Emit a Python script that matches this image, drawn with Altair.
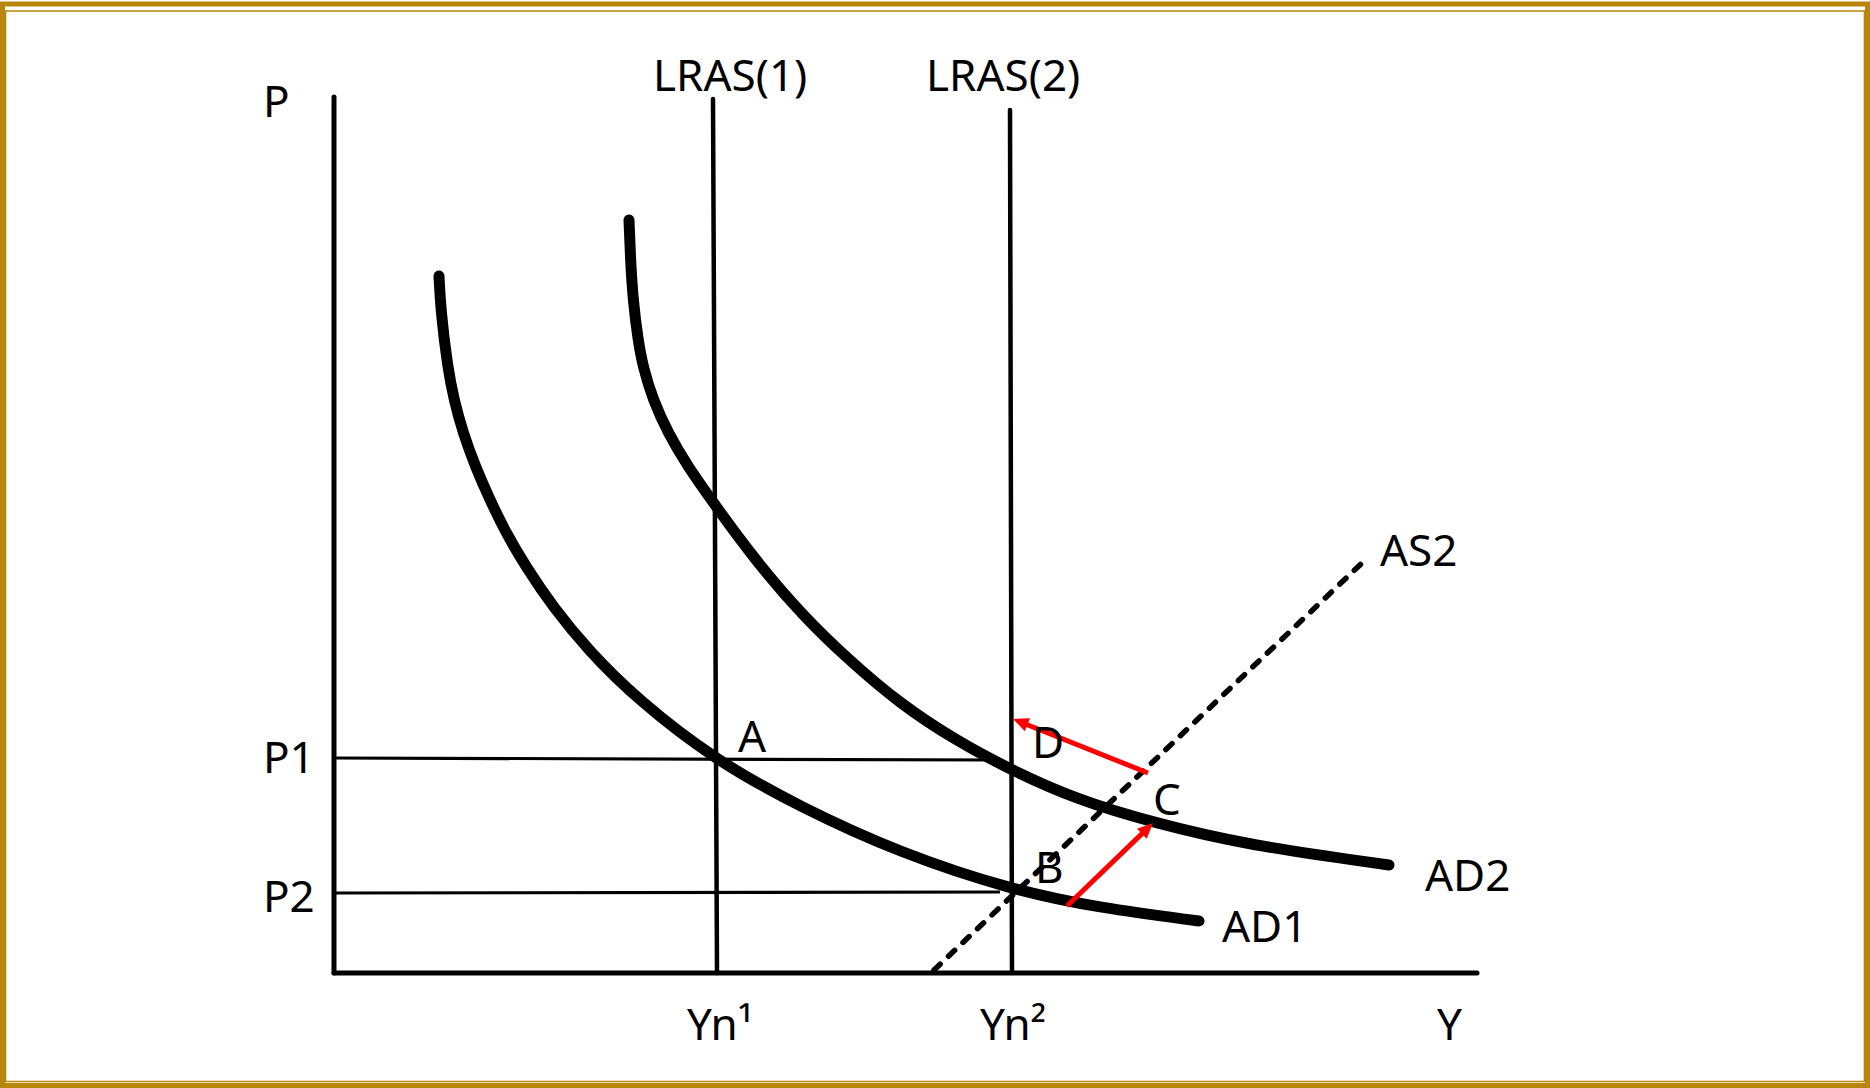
import math
import altair as alt
import pandas as pd

# ---- data (units: output Y to the right, price level P upward; origin = axes corner) ----
ad1_y = [10.5, 10.67, 11.35, 12.0, 12.9, 14.15, 15.6, 17.2, 19.2, 21.9, 25.4, 30.4,
         38.1, 46.6, 56.6, 67.8, 76.6, 86.5]
ad1_p = [69.7, 66.3, 60.6, 57.3, 54.0, 50.6, 47.3, 44.0, 40.6, 36.6, 32.3, 27.3,
         21.3, 16.6, 12.0, 8.3, 6.5, 5.2]
ad2_y = [29.5, 29.65, 29.9, 30.4, 30.9, 31.9, 33.4, 35.4, 37.95, 42.1, 47.0, 51.5,
         56.5, 62.1, 67.7, 74.4, 81.7, 91.2, 105.5]
ad2_p = [75.3, 71.3, 67.3, 63.3, 60.6, 57.3, 54.0, 50.6, 47.0, 41.3, 35.6, 31.3,
         27.0, 23.3, 20.3, 17.3, 15.1, 12.8, 10.8]

lras1_y = [37.9, 38.3]
lras1_p = [87.4, 0.0]
lras2_y = [67.6, 67.8]
lras2_p = [86.3, 0.0]

p1_y = [0.0, 66.6]
p1_p = [21.5, 21.3]
p2_y = [0.0, 66.6]
p2_p = [8.0, 8.1]

as2_y = [60.0, 102.8]
as2_p = [0.3, 41.0]

yaxis_y = [0.0, 0.0]
yaxis_p = [0.0, 87.6]
xaxis_y = [0.0, 114.3]
xaxis_p = [0.0, 0.0]

arrow_bc_y = [73.3, 81.9]
arrow_bc_p = [6.7, 15.0]
arrow_cd_y = [81.4, 67.9]
arrow_cd_p = [20.0, 25.4]

label_text = ["P", "LRAS(1)", "LRAS(2)", "P1", "P2", "A", "B", "C", "D",
              "AS2", "AD1", "AD2", "Yn¹", "Yn²", "Y"]
label_y = [-7.1, 31.9, 59.2, -7.1, -7.1, 40.4, 70.1, 81.9, 69.8,
           104.6, 88.8, 109.1, 35.3, 64.6, 110.3]
label_p = [85.6, 88.2, 88.2, 20.0, 6.1, 22.1, 9.0, 15.8, 21.5,
           40.7, 3.1, 8.2, -6.7, -6.7, -6.7]

# ---- scales ----
XS = alt.Scale(domain=[-33.4, 153.6], nice=False, zero=False)
YS = alt.Scale(domain=[-11.5, 97.3], nice=False, zero=False)
GOLD = "#B8860B"


def frame(pairs):
    rows = []
    for name, xs, ys in pairs:
        for i, (a, b) in enumerate(zip(xs, ys)):
            rows.append({"name": name, "i": i, "x": a, "y": b})
    return pd.DataFrame(rows)


def lines(df, **mk):
    return alt.Chart(df).mark_line(**mk).encode(
        x=alt.X("x:Q", scale=XS, axis=None),
        y=alt.Y("y:Q", scale=YS, axis=None),
        detail="name:N",
        order="i:Q",
    )


axes = lines(frame([("yaxis", yaxis_y, yaxis_p), ("xaxis", xaxis_y, xaxis_p)]),
             color="black", strokeWidth=5, strokeCap="round")
lras = lines(frame([("lras1", lras1_y, lras1_p), ("lras2", lras2_y, lras2_p)]),
             color="black", strokeWidth=4.5, strokeCap="round")
plines = lines(frame([("p1", p1_y, p1_p), ("p2", p2_y, p2_p)]),
               color="black", strokeWidth=3.2)
as2 = lines(frame([("as2", as2_y, as2_p)]),
            color="black", strokeWidth=5.5, strokeCap="round", strokeDash=[8.5, 11.5])
ad = lines(frame([("ad1", ad1_y, ad1_p), ("ad2", ad2_y, ad2_p)]),
           color="black", strokeWidth=11, strokeCap="round", strokeJoin="round",
           interpolate="basis")

# arrows: shaft shortened so the head carries the tip
HEAD = 1.5
shaft_pairs = []
head_rows = []
for name, xs, ys in [("bc", arrow_bc_y, arrow_bc_p), ("cd", arrow_cd_y, arrow_cd_p)]:
    dx, dy = xs[1] - xs[0], ys[1] - ys[0]
    L = math.hypot(dx, dy)
    ux, uy = dx / L, dy / L
    shaft_pairs.append((name, [xs[0], xs[1] - ux * HEAD * 0.8], [ys[0], ys[1] - uy * HEAD * 0.8]))
    ang = math.degrees(math.atan2(dx, dy)) % 360
    head_rows.append({"x": xs[1], "y": ys[1], "angle": ang})

shafts = lines(frame(shaft_pairs), color="#FF0000", strokeWidth=5)
heads = alt.Chart(pd.DataFrame(head_rows)).mark_point(
    shape="M0,0L-0.9,2L0.9,2Z", filled=True, color="#FF0000", size=240, opacity=1, strokeWidth=0
).encode(
    x=alt.X("x:Q", scale=XS, axis=None),
    y=alt.Y("y:Q", scale=YS, axis=None),
    angle=alt.Angle("angle:Q", scale=None),
)

labels = alt.Chart(pd.DataFrame({"t": label_text, "x": label_y, "y": label_p})).mark_text(
    font="Noto Sans", fontSize=44, align="left", baseline="alphabetic", color="black"
).encode(
    x=alt.X("x:Q", scale=XS, axis=None),
    y=alt.Y("y:Q", scale=YS, axis=None),
    text="t:N",
)

one = pd.DataFrame({"k": [0]})
border_outer = alt.Chart(one).mark_rect(filled=False, stroke=GOLD, strokeWidth=5).encode(
    x=alt.value(2.5), x2=alt.value(1867.5), y=alt.value(4), y2=alt.value(1085.5)
)
border_inner = alt.Chart(one).mark_rect(filled=False, stroke=GOLD, strokeWidth=1.6).encode(
    x=alt.value(5.5), x2=alt.value(1864.5), y=alt.value(11), y2=alt.value(1081.5)
)

chart = alt.layer(
    border_outer, border_inner, plines, lras, axes, as2, ad, shafts, heads, labels
).properties(
    width=1870, height=1088, padding=0,
    autosize=alt.AutoSizeParams(type="none"),
    background="white",
).configure_view(strokeWidth=0)

chart.save("out.html", embed_options={"renderer": "svg", "actions": False})
